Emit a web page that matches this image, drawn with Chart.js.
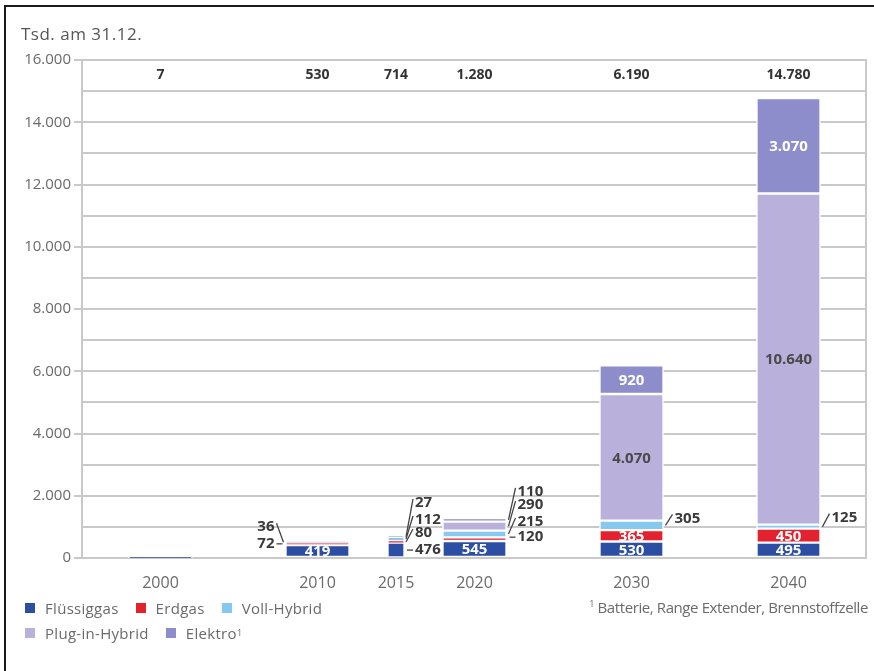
<!DOCTYPE html>
<html><head><meta charset="utf-8">
<script src="https://cdn.jsdelivr.net/npm/chart.js@4.4.1/dist/chart.umd.min.js"></script>
<style>
html,body{margin:0;padding:0;background:#fff;}
#wrap{position:relative;width:874px;height:671px;overflow:hidden;font-family:'Open Sans',sans-serif;}
#frame{position:absolute;left:4px;top:5px;width:900px;height:700px;border-left:2px solid #1a1a1a;border-top:2px solid #1a1a1a;}
#c{position:absolute;left:0;top:0;}
#title{position:absolute;left:21px;top:22px;font-size:17px;color:#555;letter-spacing:0.5px;}
.row{position:absolute;left:25px;display:flex;align-items:center;font-size:15px;color:#6a6a6a;letter-spacing:0.3px;}
.item{display:flex;align-items:center;margin-right:17px;}
.sw{width:10px;height:10px;margin-right:10px;}
#note{position:absolute;right:6px;top:597px;font-size:15px;color:#6a6a6a;letter-spacing:-0.4px;}
sup{font-size:9px;vertical-align:6px;line-height:0;}
</style></head>
<body><div id="wrap">
<div id="frame"></div>
<canvas id="c" width="874" height="671"></canvas>
<div id="title">Tsd. am 31.12.</div>
<div class="row" id="leg1" style="top:598px"></div>
<div class="row" id="leg2" style="top:623px"></div>
<div id="note"><sup>1</sup> Batterie, Range Extender, Brennstoffzelle</div>
</div>
<script>
// ---- data ----
const years = [2000, 2010, 2015, 2020, 2030, 2040];
const totals = [7, 530, 714, 1280, 6190, 14780];
const fluessiggas = [7, 419, 476, 545, 530, 495];
const erdgas = [0, 72, 80, 120, 365, 450];
const vollHybrid = [0, 36, 112, 215, 305, 125];
const plugInHybrid = [0, 0, 0, 290, 4070, 10640];
const elektro = [0, 0, 27, 110, 920, 3070];
const seriesNames = ['Flüssiggas', 'Erdgas', 'Voll-Hybrid', 'Plug-in-Hybrid', 'Elektro'];
const yTicks = [0, 2000, 4000, 6000, 8000, 10000, 12000, 14000, 16000];

// ---- styling ----
const seriesValues = [fluessiggas, erdgas, vollHybrid, plugInHybrid, elektro];
const colors = ['#2c4fa3', '#e3212f', '#86c9ee', '#b9b1db', '#8d8dcb'];
const insideText = ['#fff', '#fff', '#fff', '#4a4a4a', '#fff'];
const narrowYear = 2; // 2015 drawn as a narrow bar
// callout layout: per year index, side and vertical offset (px) per series index
const callouts = {
  1: {side: 'left', dy: {1: 0, 2: -15}},
  2: {side: 'right', dy: {0: 0, 1: -9, 2: -19, 4: -34}},
  3: {side: 'right', dy: {1: -2, 2: -12, 3: -21, 4: -28}},
  4: {side: 'right', dy: {2: -7}},
  5: {side: 'right', dy: {2: -9}}
};
const fmt = v => String(v).replace(/\B(?=(\d{3})+(?!\d))/g, '.');
const GRID = '#c9c9c9';

Chart.defaults.font.family = "'Open Sans', sans-serif";

const datasets = [];
seriesValues.forEach((vals, si) => {
  datasets.push({
    label: seriesNames[si],
    data: years.map((yr, i) => ({x: yr, y: (i === narrowYear || !vals[i]) ? null : vals[i]})),
    backgroundColor: colors[si], borderColor: '#fff', borderWidth: 1.5, borderSkipped: false,
    barThickness: 64, stack: 'all'
  });
});
seriesValues.forEach((vals, si) => {
  datasets.push({
    label: seriesNames[si] + ' (2015)',
    data: years.map((yr, i) => ({x: yr, y: (i === narrowYear && vals[i]) ? vals[i] : null})),
    backgroundColor: colors[si], borderColor: '#fff', borderWidth: 1, borderSkipped: false,
    barThickness: 16, stack: 'all'
  });
});

const labelPlugin = {
  id: 'labels',
  afterDatasetsDraw(chart) {
    const ctx = chart.ctx, xs = chart.scales.x, area = chart.chartArea;
    ctx.save();
    // right border of plot
    ctx.strokeStyle = GRID; ctx.lineWidth = 2;
    ctx.beginPath(); ctx.moveTo(area.right - 1, area.top); ctx.lineTo(area.right - 1, area.bottom); ctx.stroke();
    // totals row
    ctx.font = "bold 14px 'Open Sans'";
    ctx.fillStyle = '#333'; ctx.textAlign = 'center'; ctx.textBaseline = 'middle';
    years.forEach((yr, i) => ctx.fillText(fmt(totals[i]), xs.getPixelForValue(yr), area.top + 15));
    // segment labels
    seriesValues.forEach((vals, si) => {
      years.forEach((yr, yi) => {
        const v = vals[yi];
        if (!v || yi === 0) return;
        const dsIndex = yi === narrowYear ? si + seriesValues.length : si;
        const el = chart.getDatasetMeta(dsIndex).data[yi];
        if (!el) return;
        const p = el.getProps(['x', 'y', 'base', 'width'], true);
        const cy = (p.y + p.base) / 2;
        const co = callouts[yi];
        const dy = co ? co.dy[si] : undefined;
        ctx.font = "bold 15px 'Open Sans'";
        if (dy === undefined) {
          ctx.fillStyle = insideText[si]; ctx.textAlign = 'center';
          ctx.fillText(fmt(v), p.x, cy + 1);
        } else {
          const ly = cy + dy;
          ctx.strokeStyle = '#444'; ctx.lineWidth = 1.3;
          ctx.fillStyle = '#3a3a3a';
          ctx.beginPath();
          if (co.side === 'right') {
            const xe = p.x + p.width / 2;
            if (Math.abs(dy) < 4) { ctx.moveTo(xe + 3, ly); ctx.lineTo(xe + 9, ly); }
            else { ctx.moveTo(xe + 2, cy); ctx.lineTo(xe + 9, ly - 4); }
            ctx.stroke();
            ctx.textAlign = 'left';
            ctx.fillText(fmt(v), xe + 11, ly);
          } else {
            const xe = p.x - p.width / 2;
            if (Math.abs(dy) < 4) { ctx.moveTo(xe - 3, ly); ctx.lineTo(xe - 9, ly); }
            else { ctx.moveTo(xe - 2, cy); ctx.lineTo(xe - 9, ly - 4); }
            ctx.stroke();
            ctx.textAlign = 'right';
            ctx.fillText(fmt(v), xe - 11, ly);
          }
        }
      });
    });
    ctx.restore();
  }
};

new Chart(document.getElementById('c'), {
  type: 'bar',
  data: {datasets},
  options: {
    responsive: false, animation: false,
    layout: {padding: {top: 60, right: 7, left: 0, bottom: 0}},
    plugins: {legend: {display: false}, tooltip: {enabled: false}},
    scales: {
      x: {
        type: 'linear', min: 1995, max: 2045, offset: false,
        grid: {display: false}, border: {display: false},
        afterBuildTicks: s => { s.ticks = years.map(v => ({value: v})); },
        afterFit: s => { s.height = 113; },
        ticks: {autoSkip: false, maxRotation: 0, padding: 8, color: '#6a6a6a', font: {size: 16},
          callback: v => String(v)}
      },
      y: {
        stacked: true, min: 0, max: 16000,
        afterFit: s => { s.width = 82; },
        border: {display: true, color: GRID, width: 2},
        grid: {color: GRID, lineWidth: 2, tickLength: 8,
          tickColor: c => (c.tick && c.tick.value % 2000 === 0) ? GRID : 'rgba(0,0,0,0)'},
        ticks: {stepSize: 1000, padding: 3, color: '#6a6a6a', font: {size: 15},
          callback: v => yTicks.includes(v) ? fmt(v) : ''}
      }
    }
  },
  plugins: [labelPlugin]
});

// HTML legend
const mk = (si, sup) => `<div class="item"><div class="sw" style="background:${colors[si]}"></div>${seriesNames[si]}${sup ? '<sup>1</sup>' : ''}</div>`;
document.getElementById('leg1').innerHTML = mk(0) + mk(1) + mk(2);
document.getElementById('leg2').innerHTML = mk(3) + mk(4, true);
</script>
</body></html>
